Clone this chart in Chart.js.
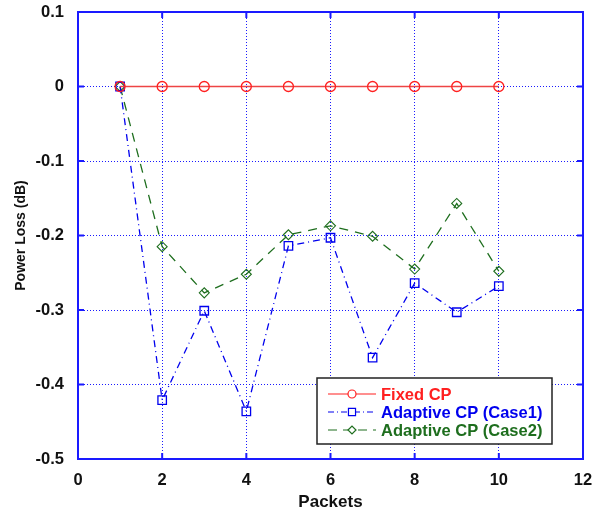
<!DOCTYPE html>
<html>
<head>
<meta charset="utf-8">
<script src="https://cdn.jsdelivr.net/npm/chart.js@4"></script>
<style>
  html, body { margin: 0; padding: 0; background: #fff; }
  #wrap { width: 598px; height: 513px; position: relative; }
</style>
</head>
<body>
<div id="wrap"><canvas id="chart"></canvas></div>
<script>
// ------------------- Data -------------------
const packets = [1, 2, 3, 4, 5, 6, 7, 8, 9, 10];
const fixedCP = [0, 0, 0, 0, 0, 0, 0, 0, 0, 0];
const adaptiveCase1 = [0, -0.421, -0.301, -0.436, -0.214, -0.203, -0.364, -0.264, -0.303, -0.268];
const adaptiveCase2 = [0, -0.215, -0.277, -0.252, -0.199, -0.187, -0.201, -0.245, -0.157, -0.248];
const seriesNames = ['Fixed CP', 'Adaptive CP (Case1)', 'Adaptive CP (Case2)'];

const AXIS_BLUE = '#1a1aff';
const RED = '#ff2020';
const BLUE = '#0000ee';
const GREEN = '#1e6e1e';
const FONT = '"Liberation Sans", Arial, sans-serif';

const toPoints = ys => packets.map((x, i) => ({ x: x, y: ys[i] }));

// ------------------- Plugin: frame, inner ticks, legend -------------------
const framePlugin = {
  id: 'frame',
  afterDraw(chart) {
    const { ctx, chartArea: a, scales } = chart;
    ctx.save();
    // inside tick marks
    ctx.strokeStyle = AXIS_BLUE;
    ctx.lineWidth = 2;
    ctx.setLineDash([]);
    scales.x.ticks.forEach(t => {
      const px = scales.x.getPixelForValue(t.value);
      ctx.beginPath();
      ctx.moveTo(px, a.bottom); ctx.lineTo(px, a.bottom - 6);
      ctx.moveTo(px, a.top); ctx.lineTo(px, a.top + 6);
      ctx.stroke();
    });
    scales.y.ticks.forEach(t => {
      const py = scales.y.getPixelForValue(t.value);
      ctx.beginPath();
      ctx.moveTo(a.left, py); ctx.lineTo(a.left + 6, py);
      ctx.moveTo(a.right, py); ctx.lineTo(a.right - 6, py);
      ctx.stroke();
    });
    ctx.strokeRect(a.left, a.top, a.right - a.left, a.bottom - a.top);

    // legend
    const lx = 317, ly = 378, lw = 235, lh = 66;
    ctx.fillStyle = '#fff';
    ctx.fillRect(lx, ly, lw, lh);
    ctx.strokeStyle = '#222';
    ctx.lineWidth = 1.5;
    ctx.strokeRect(lx, ly, lw, lh);

    const rows = [
      { color: RED, dash: [], style: 'circle', r: 4 },
      { color: BLUE, dash: [6, 3, 1, 3], style: 'rect', r: 5 },
      { color: GREEN, dash: [9, 6], style: 'rectRot', r: 4 }
    ];
    rows.forEach((r, i) => {
      const y = 394 + i * 18;
      ctx.strokeStyle = r.color;
      ctx.lineWidth = 1.2;
      ctx.setLineDash(r.dash);
      ctx.beginPath();
      ctx.moveTo(328, y); ctx.lineTo(376, y);
      ctx.stroke();
      ctx.setLineDash([]);
      ctx.fillStyle = '#fff';
      Chart.helpers.drawPoint(ctx, { pointStyle: r.style, radius: r.r, borderWidth: 1.2 }, 352, y);
      ctx.fillStyle = r.color;
      ctx.font = 'bold 16.5px ' + FONT;
      ctx.textBaseline = 'middle';
      ctx.textAlign = 'left';
      ctx.fillText(seriesNames[i], 381, y + 1);
    });
    ctx.restore();
  }
};

// ------------------- Chart -------------------
const tickFont = { family: FONT, size: 16.5, weight: 'bold' };

new Chart(document.getElementById('chart').getContext('2d'), {
  type: 'line',
  data: {
    datasets: [
      {
        label: seriesNames[0],
        data: toPoints(fixedCP),
        borderColor: '#ee4444',
        borderWidth: 1.5,
        pointStyle: 'circle',
        pointRadius: 5,
        pointBorderColor: RED,
        pointBackgroundColor: 'rgba(0,0,0,0)',
        pointBorderWidth: 1.3
      },
      {
        label: seriesNames[1],
        data: toPoints(adaptiveCase1),
        borderColor: BLUE,
        borderWidth: 1.3,
        borderDash: [7, 4, 1, 4],
        pointStyle: 'rect',
        pointRadius: 6,
        pointBorderColor: BLUE,
        pointBackgroundColor: 'rgba(0,0,0,0)',
        pointBorderWidth: 1.3
      },
      {
        label: seriesNames[2],
        data: toPoints(adaptiveCase2),
        borderColor: GREEN,
        borderWidth: 1.3,
        borderDash: [9, 7],
        pointStyle: 'rectRot',
        pointRadius: 5,
        pointBorderColor: GREEN,
        pointBackgroundColor: 'rgba(0,0,0,0)',
        pointBorderWidth: 1.1
      }
    ]
  },
  options: {
    responsive: true,
    maintainAspectRatio: false,
    animation: false,
    layout: { padding: { top: 12, right: 15, left: 0, bottom: 0 } },
    plugins: {
      legend: { display: false },
      tooltip: { enabled: false }
    },
    scales: {
      x: {
        type: 'linear',
        min: 0,
        max: 12,
        afterFit: s => { s.height = 54; s.paddingLeft = 0; s.paddingRight = 0; },
        ticks: { stepSize: 2, color: '#111', font: tickFont, padding: 12 },
        grid: { color: AXIS_BLUE, lineWidth: 1, drawTicks: false },
        border: { display: false, dash: [1, 2] },
        title: {
          display: true,
          text: 'Packets',
          color: '#111',
          font: { family: FONT, size: 17, weight: 'bold' },
          padding: { top: 0, bottom: 0 }
        }
      },
      y: {
        min: -0.5,
        max: 0.1,
        afterFit: s => { s.width = 78; s.paddingTop = 0; s.paddingBottom = 0; },
        ticks: {
          stepSize: 0.1,
          color: '#111',
          font: tickFont,
          padding: 14,
          callback: v => (Math.abs(v) < 1e-9 ? '0' : v.toFixed(1))
        },
        grid: { color: AXIS_BLUE, lineWidth: 1, drawTicks: false },
        border: { display: false, dash: [1, 2] },
        title: {
          display: true,
          text: 'Power Loss (dB)',
          color: '#111',
          font: { family: FONT, size: 14, weight: 'bold' },
          padding: { top: 13, bottom: 4 }
        }
      }
    }
  },
  plugins: [framePlugin]
});
</script>
</body>
</html>
